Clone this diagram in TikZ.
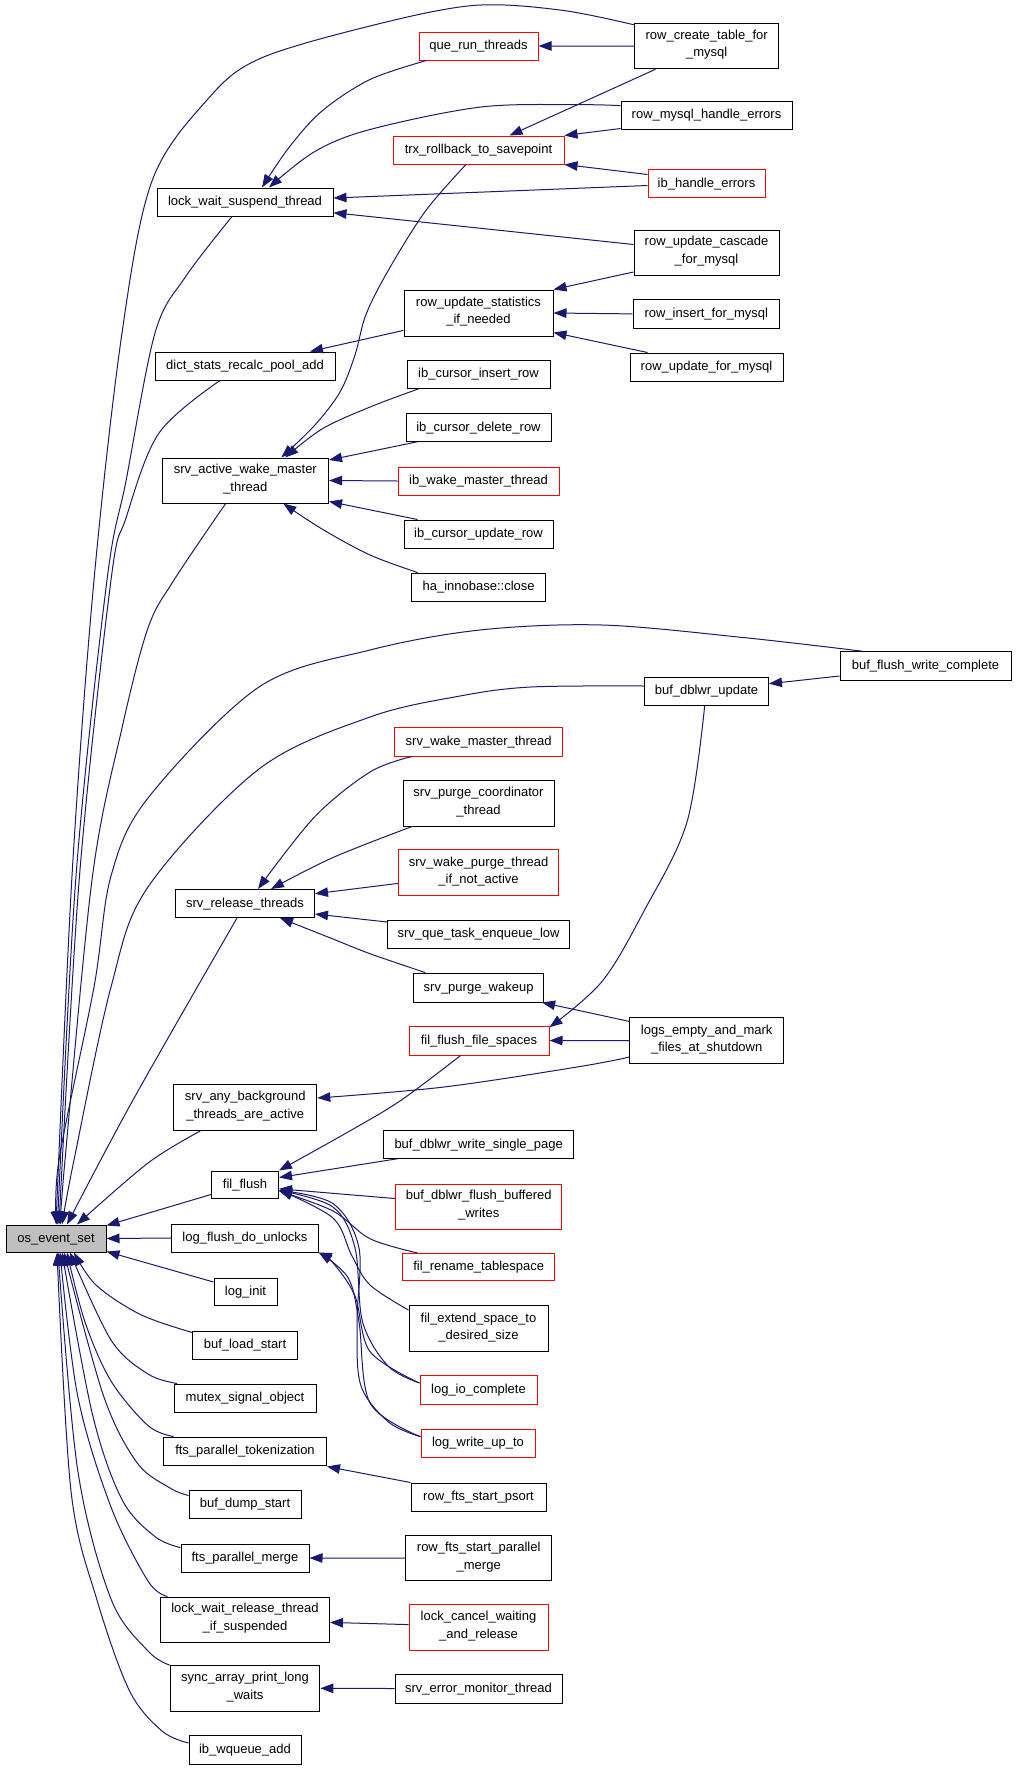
\documentclass[tikz,border=0pt]{standalone}
\usepackage{fontspec}
\setmainfont{Liberation Sans}
\usetikzlibrary{arrows.meta,calc}
\definecolor{navyc}{HTML}{191970}
\definecolor{redc}{HTML}{FF0000}
\definecolor{grayc}{HTML}{BFBFBF}
\newcommand\nd[7]{\node[#6,minimum width=#4pt,minimum height=#5pt] (#1) at (#2,#3) {#7};}
\newcommand\crv[1]{\draw[edge] plot[smooth,tension=0.55] coordinates {#1};}
\begin{document}
\begin{tikzpicture}[x=1pt,y=-1pt,
  box/.style={draw=black,fill=white,line width=1pt,inner sep=0pt,align=center,
    font=\fontsize{13}{17.5}\selectfont,execute at begin node=\strut,execute at end node=\strut},
  rbox/.style={box,draw=redc},
  gbox/.style={box,fill=grayc},
  edge/.style={draw=navyc,line width=1pt,-{Triangle[length=13pt,width=9.5pt]}}]
\useasboundingbox[fill=white] (0,0) rectangle (1016,1770);
% column 1
\nd{os}{56}{1238.5}{100}{27}{gbox}{os\_event\_set}
% column 2
\nd{lws}{245}{202}{176}{28}{box}{lock\_wait\_suspend\_thread}
\nd{dsr}{245}{366}{180}{28}{box}{dict\_stats\_recalc\_pool\_add}
\nd{sawm}{245.3}{480.5}{166.5}{45}{box}{srv\_active\_wake\_master\\\_thread}
\nd{srt}{245}{903.5}{139}{28}{box}{srv\_release\_threads}
\nd{sab}{245.3}{1107.5}{143}{46}{box}{srv\_any\_background\\\_threads\_are\_active}
\nd{ff}{245}{1184.5}{67}{27}{box}{fil\_flush}
\nd{lfdu}{245}{1238}{146.5}{28}{box}{log\_flush\_do\_unlocks}
\nd{li}{245.5}{1291.5}{63}{27}{box}{log\_init}
\nd{bls}{245}{1345}{104.5}{28}{box}{buf\_load\_start}
\nd{mso}{245}{1398}{142}{28}{box}{mutex\_signal\_object}
\nd{fpt}{245}{1451}{163}{28}{box}{fts\_parallel\_tokenization}
\nd{bds}{245}{1504}{112}{28}{box}{buf\_dump\_start}
\nd{fpm}{245}{1558}{128}{28}{box}{fts\_parallel\_merge}
\nd{lwrt}{245}{1619.5}{169}{45}{box}{lock\_wait\_release\_thread\\\_if\_suspended}
\nd{sapl}{245}{1688.3}{149.6}{45.4}{box}{sync\_array\_print\_long\\\_waits}
\nd{iwa}{245}{1749.5}{112}{29}{box}{ib\_wqueue\_add}
% column 3
\nd{qrt}{478.5}{46}{119}{28}{rbox}{que\_run\_threads}
\nd{trs}{478.5}{150}{171}{28}{rbox}{trx\_rollback\_to\_savepoint}
\nd{rusn}{478.5}{313}{149}{46}{box}{row\_update\_statistics\\\_if\_needed}
\nd{icir}{478.5}{374}{143}{28}{box}{ib\_cursor\_insert\_row}
\nd{icdr}{478.5}{427.5}{145}{27.5}{box}{ib\_cursor\_delete\_row}
\nd{iwmt}{478.5}{481}{161}{28}{rbox}{ib\_wake\_master\_thread}
\nd{icur}{478.5}{534}{149}{28}{box}{ib\_cursor\_update\_row}
\nd{hic}{478.6}{587}{134}{28}{box}{ha\_innobase::close}
\nd{swmt}{478.7}{741.7}{167.5}{28.6}{rbox}{srv\_wake\_master\_thread}
\nd{spct}{478.5}{803.3}{151}{45.4}{box}{srv\_purge\_coordinator\\\_thread}
\nd{swpt}{478.6}{872.7}{160}{45.5}{rbox}{srv\_wake\_purge\_thread\\\_if\_not\_active}
\nd{sqte}{478.6}{934}{182}{28}{box}{srv\_que\_task\_enqueue\_low}
\nd{spw}{478.6}{987.5}{130}{29}{box}{srv\_purge\_wakeup}
\nd{ffs}{479}{1040.5}{140}{29}{rbox}{fil\_flush\_file\_spaces}
\nd{bdwsp}{478.7}{1144.5}{189.5}{27.5}{box}{buf\_dblwr\_write\_single\_page}
\nd{bdfbw}{478.7}{1206.5}{166.5}{45}{rbox}{buf\_dblwr\_flush\_buffered\\\_writes}
\nd{frt}{478.7}{1267.2}{152.5}{27.5}{rbox}{fil\_rename\_tablespace}
\nd{fesd}{478.5}{1328.7}{139}{45.5}{box}{fil\_extend\_space\_to\\\_desired\_size}
\nd{lic}{478.5}{1390}{117}{29}{rbox}{log\_io\_complete}
\nd{lwut}{478}{1443}{114}{28}{rbox}{log\_write\_up\_to}
\nd{rfsp}{478.5}{1497}{135}{28}{box}{row\_fts\_start\_psort}
\nd{rfspm}{478.7}{1558.2}{146.5}{45.5}{box}{row\_fts\_start\_parallel\\\_merge}
\nd{lcwr}{478.5}{1627.3}{139}{45.4}{rbox}{lock\_cancel\_waiting\\\_and\_release}
\nd{semt}{478.5}{1688.5}{167}{29}{box}{srv\_error\_monitor\_thread}
% column 4
\nd{rctm}{706.7}{46.1}{143.5}{45.4}{box}{row\_create\_table\_for\\\_mysql}
\nd{rmhe}{706.5}{115.2}{171}{28.4}{box}{row\_mysql\_handle\_errors}
\nd{ihe}{706.5}{183.5}{117}{28}{rbox}{ib\_handle\_errors}
\nd{rucm}{706.5}{252.5}{145}{45}{box}{row\_update\_cascade\\\_for\_mysql}
\nd{rifm}{706.3}{313.9}{146.6}{28.3}{box}{row\_insert\_for\_mysql}
\nd{rufm}{706.5}{367.3}{153}{28.6}{box}{row\_update\_for\_mysql}
\nd{bdu}{706.5}{691}{124}{28}{box}{buf\_dblwr\_update}
\nd{leam}{706.7}{1040.7}{153.5}{45.5}{box}{logs\_empty\_and\_mark\\\_files\_at\_shutdown}
% column 5
\nd{bfwc}{925.5}{666}{171}{28.7}{box}{buf\_flush\_write\_complete}

% ---- connector end points
\coordinate (c1s) at ($(rctm.north west)+(0,2)$);
\coordinate (c1e) at ($(os.north)+(0,0)$);
\coordinate (c2s) at ($(lws.south)+(-13,0)$);
\coordinate (c2e) at ($(os.north)+(1.5,0)$);
\coordinate (c3s) at ($(dsr.south)+(-25,0)$);
\coordinate (c3e) at ($(os.north)+(3,0)$);
\coordinate (c4s) at ($(sawm.south)+(-19.6,0)$);
\coordinate (c4e) at ($(os.north)+(4.5,0)$);
\coordinate (c5s) at ($(bfwc.north west)+(22.5,0)$);
\coordinate (c5e) at ($(os.north)+(1,0)$);
\coordinate (c6s) at ($(bdu.west)+(0,-5)$);
\coordinate (c6e) at ($(os.north)+(6,0)$);
\coordinate (c7s) at ($(srt.south)+(-8,0)$);
\coordinate (c7e) at ($(os.north)+(11,0)$);
\coordinate (c8s) at ($(sab.south)+(-45,0)$);
\coordinate (c8e) at ($(os.north)+(21,0)$);
\coordinate (c9s) at ($(bls.north west)+(0,2)$);
\coordinate (c9e) at ($(os.south)+(18,0)$);
\coordinate (c10s) at ($(mso.north west)+(3.6,0)$);
\coordinate (c10e) at ($(os.south)+(14,0)$);
\coordinate (c11s) at ($(fpt.north west)+(10.5,0)$);
\coordinate (c11e) at ($(os.south)+(11,0)$);
\coordinate (c12s) at ($(bds.north west)+(0,6)$);
\coordinate (c12e) at ($(os.south)+(8,0)$);
\coordinate (c13s) at ($(fpm.west)+(0,-10.4)$);
\coordinate (c13e) at ($(os.south)+(6,0)$);
\coordinate (c14s) at ($(lwrt.north west)+(7.5,0)$);
\coordinate (c14e) at ($(os.south)+(4,0)$);
\coordinate (c15s) at (sapl.north west);
\coordinate (c15e) at ($(os.south)+(2,0)$);
\coordinate (c16s) at ($(iwa.north west)+(0,8.5)$);
\coordinate (c16e) at ($(os.south)+(1,0)$);
\coordinate (c17s) at ($(qrt.south west)+(8,0)$);
\coordinate (c17e) at ($(lws.north)+(17,0)$);
\coordinate (c18s) at ($(rmhe.west)+(0,-9.5)$);
\coordinate (c18e) at ($(lws.north)+(24,0)$);
\coordinate (c19s) at ($(trs.south)+(-12.5,0)$);
\coordinate (c19e) at ($(sawm.north)+(36,0)$);
\coordinate (c20s) at ($(icir.south west)+(13,0)$);
\coordinate (c20e) at ($(sawm.north)+(40,0)$);
\coordinate (c21s) at ($(hic.north west)+(6.5,0)$);
\coordinate (c21e) at ($(sawm.south)+(38,0)$);
\coordinate (c22s) at ($(swmt.south west)+(17.5,0)$);
\coordinate (c22e) at ($(srt.north)+(13,0)$);
\coordinate (c23s) at ($(spct.south west)+(9.5,0)$);
\coordinate (c23e) at ($(srt.north)+(26,0)$);
\coordinate (c24s) at ($(spw.north west)+(12,0)$);
\coordinate (c24e) at ($(srt.south)+(35,0)$);
\coordinate (c25s) at ($(bdu.south)+(-1.8,0)$);
\coordinate (c25e) at ($(ffs.north east)+(0,1.7)$);
\coordinate (c26s) at ($(leam.west)+(0,16.3)$);
\coordinate (c26e) at ($(sab.east)+(0,-9.5)$);
\coordinate (c27s) at ($(ffs.south)+(-18.4,0)$);
\coordinate (c27e) at (ff.north east);
\coordinate (c28s) at ($(frt.north west)+(15.5,0)$);
\coordinate (c28e) at ($(ff.east)+(0,6.5)$);
\coordinate (c29s) at ($(fesd.west)+(0,-18.7)$);
\coordinate (c29e) at ($(ff.east)+(0,5.5)$);
\coordinate (c30s) at ($(lic.west)+(0,-7)$);
\coordinate (c30e) at ($(ff.east)+(0,6)$);
\coordinate (c31s) at ($(lwut.west)+(0,-6.3)$);
\coordinate (c31e) at ($(ff.east)+(0,6)$);
\coordinate (c32e) at (lfdu.south east);

% ---- curved connectors
\crv{(c1s) (560,10) (473,5.5) (370,26) (259,59) (207,100) (152,181) (122,333) (94,580) (72,876) (c1e)}
\crv{(c2s) (185,277.5) (155,333) (126,481) (107,580) (76,876) (c2e)}
\crv{(c3s) (159,433) (126,518) (111,580) (79.5,876) (c3e)}
\crv{(c4s) (174,580) (148,628) (122,728) (92.5,876) (65,1160) (c4e)}
\crv{(c5s) (744,637.6) (602,625) (480,630) (370,650) (259,687) (148,798) (111,876) (94,987) (59,1160) (c5e)}
\crv{(c6s) (531,687) (460,696) (370,717) (259,769) (148,887) (111,987) (74,1160) (c6e)}
\crv{(c7s) (133,1100) (c7e)}
\crv{(c8s) (148,1163) (c8e)}
\crv{(c9s) (140.6,1314.6) (96,1285) (c9e)}
\crv{(c10s) (148,1374) (111,1340) (c10e)}
\crv{(c11s) (148,1425.6) (111,1381) (85,1322) (c11e)}
\crv{(c12s) (170,1488) (137,1462.6) (103.6,1396) (c12e)}
\crv{(c13s) (155,1536.6) (122,1499.6) (92.5,1414.5) (c13e)}
\crv{(c14s) (148,1581) (111,1507) (77.7,1396) (c14e)}
\crv{(c15s) (148,1651) (111,1599) (77.7,1470) (c15e)}
\crv{(c16s) (162,1731) (129.6,1691) (97,1600) (71,1491) (c16e)}
\crv{(c17s) (370,79.5) (322,111) (288.6,148) (c17e)}
\crv{(c18s) (580,104.7) (481,107) (370,129.5) (314.5,151.7) (c18e)}
\crv{(c19s) (425.5,211) (388.5,270) (366,314.5) (355,355) (340,392) (314.5,425.5) (c19e)}
\crv{(c20s) (370,407) (322,429) (c20e)}
\crv{(c21s) (370,555) (322,529) (c21e)}
\crv{(c22s) (370,772) (314.5,817) (c22e)}
\crv{(c23s) (333,857.5) (c23e)}
\crv{(c24s) (370,953.7) (333,939) (c24e)}
\crv{(c25s) (687,822) (644,911) (602,981.5) (c25e)}
\crv{(c26s) (580,1066.5) (444,1087) (c26e)}
\crv{(c27s) (401.4,1100) (351.5,1130) (c27e)}
\crv{(c28s) (370,1238.7) (333,1211) (c28e)}
\crv{(c29s) (370,1285) (351.5,1255) (333,1218) (c29e)}
\crv{(c30s) (388,1366) (362.6,1322) (355,1248) (333,1207) (c30e)}
\crv{(c31s) (388.5,1422) (360.7,1385) (357,1322) (359,1248) (333,1203.6) (c31e)}
\crv{(c30s) (370,1351.6) (355,1296) (333,1262.8) (c32e)}
\crv{(c31s) (370,1403) (359,1322) (348,1277.6) (c32e)}

% ---- straight connectors
\draw[edge] (rctm.west) -- (qrt.east);
\draw[edge] ($(rctm.south west)+(21,0)$) -- ($(trs.north)+(31,0)$);
\draw[edge] ($(rmhe.south west)+(0,-1.4)$) -- (trs.north east);
\draw[edge] ($(ihe.west)+(0,-9)$) -- (trs.south east);
\draw[edge] ($(ihe.west)+(0,2)$) -- ($(lws.east)+(0,-4)$);
\draw[edge] ($(rucm.west)+(0,-8)$) -- ($(lws.east)+(0,10.7)$);
\draw[edge] ($(rusn.west)+(0,17.4)$) -- ($(dsr.north)+(65,0)$);
\draw[edge] ($(rucm.west)+(0,19.5)$) -- (rusn.north east);
\draw[edge] (rifm.west) -- (rusn.east);
\draw[edge] ($(rufm.north west)+(18,0)$) -- ($(rusn.south east)+(0,-4)$);
\draw[edge] ($(icdr.south west)+(12,0)$) -- ($(sawm.north east)+(0,2.5)$);
\draw[edge] (iwmt.west) -- (sawm.east);
\draw[edge] ($(icur.north west)+(14,0)$) -- ($(sawm.south east)+(0,-2)$);
\draw[edge] ($(bfwc.west)+(0,10)$) -- ($(bdu.east)+(0,-7.3)$);
\draw[edge] ($(swpt.west)+(0,10.7)$) -- ($(srt.east)+(0,-9.8)$);
\draw[edge] ($(sqte.west)+(0,-12)$) -- ($(srt.east)+(0,10.5)$);
\draw[edge] ($(leam.north west)+(0,4)$) -- ($(spw.south east)+(-2,0)$);
\draw[edge] (leam.west) -- (ffs.east);
\draw[edge] ($(bdwsp.south west)+(14,0)$) -- ($(ff.east)+(0,-7)$);
\draw[edge] ($(bdfbw.west)+(0,-8)$) -- ($(ff.east)+(0,4.3)$);
\draw[edge] ($(ff.west)+(0,10)$) -- ($(os.north east)+(0,1)$);
\draw[edge] (lfdu.west) -- (os.east);
\draw[edge] ($(li.west)+(0,-9.5)$) -- ($(os.south east)+(0,-1)$);
\draw[edge] (rfsp.north west) -- ($(fpt.south east)+(0,1)$);
\draw[edge] (rfspm.west) -- (fpm.east);
\draw[edge] ($(lcwr.west)+(0,-2.7)$) -- ($(lwrt.east)+(0,2.9)$);
\draw[edge] (semt.west) -- (sapl.east);
\end{tikzpicture}
\end{document}
